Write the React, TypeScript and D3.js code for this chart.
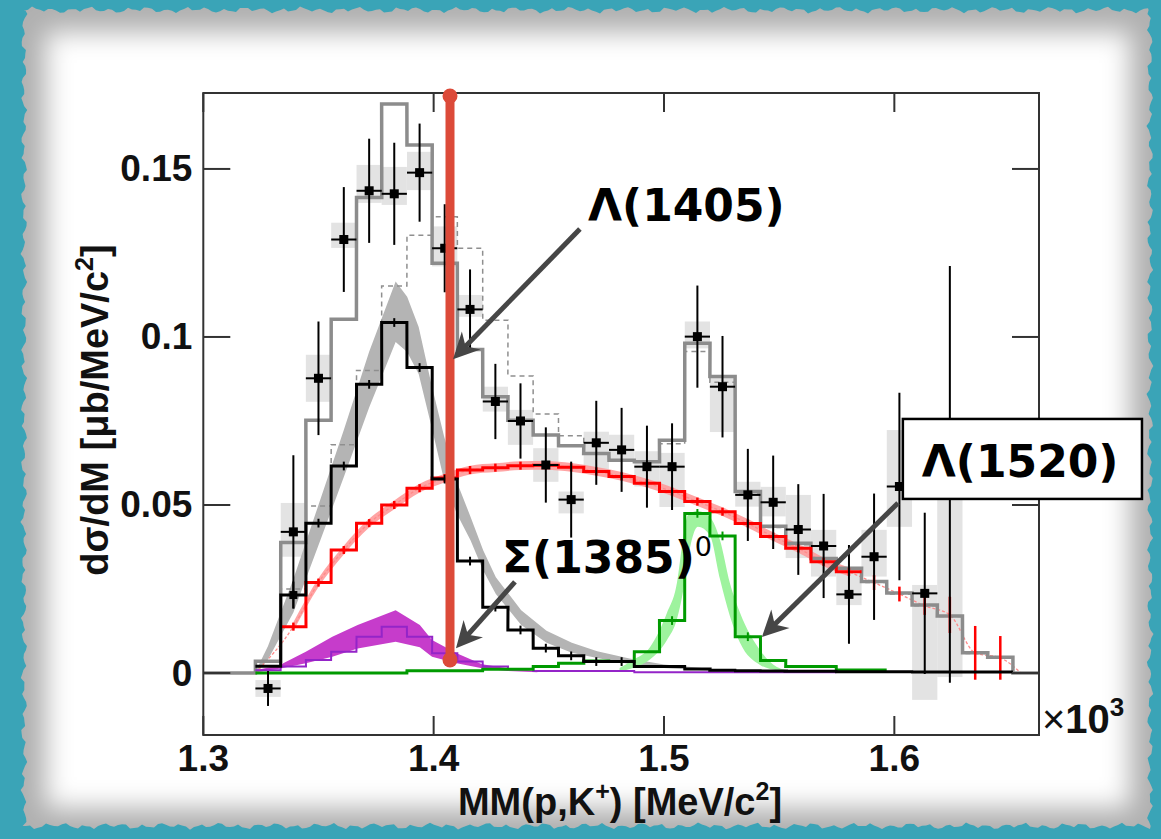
import React from "react";
import * as d3 from "d3";

// ---------------- data ----------------
const binCenters = [1.3281, 1.3391, 1.35, 1.361, 1.372, 1.3829, 1.3939, 1.4048, 1.4158, 1.4268, 1.4377, 1.4487, 1.4597, 1.4706, 1.4816, 1.4926, 1.5035, 1.5145, 1.5254, 1.5364, 1.5474, 1.5583, 1.5693, 1.5803, 1.5912, 1.6022, 1.6132, 1.6241, 1.6351, 1.646];
const binWidth = 0.01096;

const dataValue = [-0.0046, 0.042, 0.0877, 0.129, 0.1435, 0.1426, 0.1489, 0.1264, 0.1082, 0.0808, 0.075, 0.0619, 0.0516, 0.0685, 0.0664, 0.0614, 0.0614, 0.1001, 0.0852, 0.053, 0.0508, 0.0427, 0.0378, 0.0234, 0.0346, 0.0555, 0.0237, 0.0591];
const dataStatErr = [0.0052, 0.0228, 0.0169, 0.0156, 0.0155, 0.0152, 0.0146, 0.0131, 0.0119, 0.0112, 0.0112, 0.0112, 0.0113, 0.0125, 0.0125, 0.0122, 0.0129, 0.0152, 0.0151, 0.0137, 0.0139, 0.0135, 0.0155, 0.0147, 0.0188, 0.0279, 0.024, 0.062];
const dataSysUp = [0.0025, 0.0086, 0.007, 0.005, 0.0077, 0.008, 0.0062, 0.0065, 0.0043, 0.0044, 0.0033, 0.005, 0.0024, 0.0033, 0.0045, 0.0046, 0.0041, 0.0045, 0.0026, 0.0039, 0.0046, 0.0103, 0.0048, 0.0082, 0.008, 0.0168, 0.0025, 0.0];
const dataSysDown = [0.0025, 0.0074, 0.007, 0.0025, 0.0036, 0.0033, 0.0052, 0.0054, 0.0022, 0.003, 0.0071, 0.005, 0.0041, 0.009, 0.003, 0.0059, 0.012, 0.0035, 0.0135, 0.0035, 0.0042, 0.0085, 0.0091, 0.0032, 0.0059, 0.012, 0.0317, 0.0603];

const totalFit = [0.0035, 0.0388, 0.0752, 0.1053, 0.1415, 0.1693, 0.1571, 0.1219, 0.0963, 0.0822, 0.0752, 0.0708, 0.0676, 0.0653, 0.0633, 0.0629, 0.0693, 0.0981, 0.0882, 0.054, 0.0437, 0.0386, 0.0341, 0.0312, 0.0272, 0.0238, 0.0202, 0.017, 0.006, 0.0047];
const altFit = [0.002, 0.025, 0.0497, 0.0679, 0.09, 0.1152, 0.1303, 0.1358, 0.1264, 0.105, 0.0884, 0.0771, 0.0706, 0.0651, 0.0631, 0.0627, 0.0682, 0.0957, 0.0865, 0.0536, 0.0433, 0.0382, 0.0338, 0.0309, 0.0269, 0.0235, 0.02, 0.0168, 0.0058, 0.0045];
const lambda1405 = [0.002, 0.0232, 0.0446, 0.0616, 0.0859, 0.1043, 0.0909, 0.0577, 0.0333, 0.0196, 0.0128, 0.0074, 0.0051, 0.0034, 0.0034, 0.0019, 0.0019, 0.0012, 0.0008, 0.0007, 0.0006, 0.0005, 0.0005, 0.0004, 0.0004, 0.0004, 0.0003, 0.0003, 0.0003, 0.0003];
const phaseSpace = [0, 0.0138, 0.0269, 0.0366, 0.0446, 0.05, 0.055, 0.058, 0.0604, 0.0611, 0.0617, 0.0618, 0.0612, 0.06, 0.0585, 0.0565, 0.054, 0.051, 0.048, 0.0445, 0.0406, 0.0371, 0.0331, 0.0301, 0.0269, 0.0235, 0.02, 0.0173, 0.006, 0.0045];
const phaseSpaceErr = [0, 0.0012, 0.0012, 0.0012, 0.0012, 0.0012, 0.0012, 0.0012, 0.0012, 0.0012, 0.0012, 0.0012, 0.0012, 0.0012, 0.0012, 0.0012, 0.0012, 0.0012, 0.0012, 0.0012, 0.0012, 0.0012, 0.0012, 0.0012, 0.0022, 0.0022, 0.0027, 0.0054, 0.008, 0.0065];
const sigma1385 = [0.0008, 0.0019, 0.0039, 0.0063, 0.0108, 0.0138, 0.0108, 0.0059, 0.0034, 0.0019, 0.0012, 0.0006, 0.0006, 0.0006, 0.0006, 0.0002, 0.0002, 0.0002, 0.0002, 0.0002, 0.0002, 0.0002, 0.0002];
const lambda1520 = [0, 0, 0, 0, 0, 0, 0.0007, 0.0007, 0.0007, 0.0011, 0.0011, 0.0019, 0.0029, 0.0036, 0.0034, 0.0063, 0.0156, 0.0475, 0.0408, 0.0108, 0.0037, 0.0019, 0.0019, 0.0009, 0.0009];

// model uncertainty bands (smooth curves)
const band1405X = [1.3226, 1.3281, 1.3391, 1.35, 1.361, 1.372, 1.3835, 1.3885, 1.3935, 1.399, 1.4045, 1.41, 1.416, 1.4215, 1.427, 1.438, 1.449, 1.46, 1.471, 1.485, 1.5, 1.52];
const band1405Lo = [-0.0003, 0.004, 0.018, 0.038, 0.0583, 0.079, 0.0985, 0.0955, 0.089, 0.0735, 0.0575, 0.0475, 0.0395, 0.0305, 0.0235, 0.0143, 0.009, 0.006, 0.0045, 0.0027, 0.0015, 0.0007];
const band1405Hi = [0.0003, 0.008, 0.028, 0.05, 0.0723, 0.0956, 0.1165, 0.112, 0.103, 0.086, 0.0705, 0.057, 0.0465, 0.0365, 0.0285, 0.0187, 0.0126, 0.009, 0.0065, 0.0043, 0.0025, 0.0013];

const band1385X = [1.3226, 1.333, 1.3445, 1.356, 1.367, 1.3835, 1.394, 1.3993, 1.41, 1.421, 1.432, 1.445];
const band1385Lo = [0.0002, 0.0013, 0.0029, 0.0048, 0.0073, 0.0093, 0.0077, 0.0048, 0.0029, 0.0014, 0.0006, 0.0002];
const band1385Hi = [0.0008, 0.0023, 0.0063, 0.0108, 0.0143, 0.0187, 0.0143, 0.0098, 0.0059, 0.0026, 0.0014, 0.0006];

const band1520X = [1.4807, 1.4865, 1.4939, 1.5013, 1.5056, 1.5082, 1.5104, 1.5147, 1.5199, 1.5243, 1.5286, 1.533, 1.5417, 1.549, 1.556];
const band1520Lo = [0.0005, 0.0015, 0.004, 0.0098, 0.016, 0.024, 0.034, 0.0435, 0.041, 0.028, 0.017, 0.009, 0.0024, 0.0008, 0.0002];
const band1520Hi = [0.0015, 0.0039, 0.0077, 0.0179, 0.0268, 0.0396, 0.047, 0.0482, 0.0464, 0.0396, 0.0268, 0.0179, 0.0068, 0.0018, 0.0006];

const phaseSpaceThreshold = 1.3226;
const phaseSpaceEnd = 1.655;

const xTicks = [1.3, 1.4, 1.5, 1.6];
const xTickLabels = ["1.3", "1.4", "1.5", "1.6"];
const yTicks = [0, 0.05, 0.1, 0.15];
const yTickLabels = ["0", "0.05", "0.1", "0.15"];

// annotation anchors in data coordinates
const markerLine = { x: 1.4071, y1: 0.1717, y2: 0.0039 };
const arrow1405 = { x1: 1.4635, y1: 0.1321, x2: 1.4084, y2: 0.0934 };
const arrow1385 = { x1: 1.4353, y1: 0.0271, x2: 1.4097, y2: 0.0074 };
const arrow1520 = { x1: 1.6016, y1: 0.0506, x2: 1.5425, y2: 0.0107 };
const label1405 = { x: 1.467, y: 0.1345, text: "Λ(1405)" };
const label1385 = { x: 1.4297, y: 0.0298, text: "Σ(1385)", sup: "0" };
const label1520 = { x0: 1.6037, x1: 1.7075, y0: 0.0756, y1: 0.0518, tx: 1.6546, ty: 0.0583, text: "Λ(1520)" };

// ---------------- component ----------------
const W = 1161;
const H = 839;
const AXIS_FONT = "'Liberation Sans', Arial, Helvetica, sans-serif";
const LABEL_FONT = "'DejaVu Sans', 'Open Sans', sans-serif";

function paperPath(): string {
  const L = 24, T = 10, R = 1150, B = 826;
  const wob = (i: number, s: number) =>
    1.8 * Math.sin(i * 1.31 + s) + 1.2 * Math.sin(i * 0.47 + 2 * s) + 0.7 * Math.sin(i * 2.9 + s);
  const pts: [number, number][] = [];
  for (let xx = L; xx <= R; xx += 4) pts.push([xx, T + wob(xx / 4, 0.3)]);
  for (let yy = T; yy <= B; yy += 4) pts.push([R + wob(yy / 4, 1.1), yy]);
  for (let xx = R; xx >= L; xx -= 4) pts.push([xx, B + wob(xx / 4, 2.1)]);
  for (let yy = B; yy >= T; yy -= 4) pts.push([L + wob(yy / 4, 3.3), yy]);
  return "M" + pts.map((p) => p[0].toFixed(1) + "," + p[1].toFixed(1)).join("L") + "Z";
}

function arrowHead(x1: number, y1: number, x2: number, y2: number, L = 26, w = 13, notch = 8) {
  const dx = x2 - x1, dy = y2 - y1;
  const len = Math.hypot(dx, dy);
  const ux = dx / len, uy = dy / len;
  const nx = -uy, ny = ux;
  const bx = x2 - L * ux, by = y2 - L * uy;
  const p = [
    [x2, y2],
    [bx + w * nx, by + w * ny],
    [x2 - (L - notch) * ux, y2 - (L - notch) * uy],
    [bx - w * nx, by - w * ny],
  ];
  return {
    head: "M" + p.map((q) => q.join(",")).join("L") + "Z",
    lineEnd: [x2 - (L - notch - 2) * ux, y2 - (L - notch - 2) * uy],
  };
}

export default function App() {
  const x = d3.scaleLinear().domain([1.3, 1.6628]).range([203.3, 1039]);
  const y = d3.scaleLinear().domain([-0.01845, 0.1726]).range([735, 93]);
  const [xMin, xMax] = x.domain();

  const line = d3.line<[number, number]>().x((d) => x(d[0])).y((d) => y(d[1]));

  const step = (vals: number[], from: number, to: number, padZero = false) => {
    const pts: [number, number][] = [];
    if (padZero) pts.push([xMin, 0], [binCenters[from] - binWidth / 2, 0]);
    for (let i = from; i <= to; i++) {
      pts.push([binCenters[i] - binWidth / 2, vals[i]], [binCenters[i] + binWidth / 2, vals[i]]);
    }
    if (padZero) pts.push([binCenters[to] + binWidth / 2, 0], [xMax, 0]);
    return line(pts) || "";
  };

  const band = (xs: number[], lo: number[], hi: number[], curve: d3.CurveFactory) =>
    d3
      .area<number>()
      .x((d) => x(d))
      .y0((_, i) => y(lo[i]))
      .y1((_, i) => y(hi[i]))
      .curve(curve)(xs) || "";

  // phase-space smooth band & curve
  const psIdx = d3.range(1, 24);
  const psBand = d3
    .area<number>()
    .x((i) => x(binCenters[i]))
    .y0((i) => y(phaseSpace[i] - 0.0013))
    .y1((i) => y(phaseSpace[i] + 0.0013))
    .curve(d3.curveMonotoneX)(psIdx) || "";
  const psCurvePts: [number, number][] = [
    [phaseSpaceThreshold, 0],
    ...d3.range(1, 30).map((i) => [binCenters[i], phaseSpace[i]] as [number, number]),
    [phaseSpaceEnd, 0],
  ];
  const psCurve = d3
    .line<[number, number]>()
    .x((d) => x(d[0]))
    .y((d) => y(d[1]))
    .curve(d3.curveMonotoneX)(psCurvePts) || "";

  const halfBinPx = (x(binCenters[0] + binWidth / 2) - x(binCenters[0] - binWidth / 2)) / 2;

  const a1405 = arrowHead(x(arrow1405.x1), y(arrow1405.y1), x(arrow1405.x2), y(arrow1405.y2));
  const a1385 = arrowHead(x(arrow1385.x1), y(arrow1385.y1), x(arrow1385.x2), y(arrow1385.y2));
  const a1520 = arrowHead(x(arrow1520.x1), y(arrow1520.y1), x(arrow1520.x2), y(arrow1520.y2));

  const frameL = x(xMin), frameR = x(xMax);
  const frameT = y(y.domain()[1]), frameB = y(y.domain()[0]);

  return (
    <svg
      width={W}
      height={H}
      viewBox={`0 0 ${W} ${H}`}
      style={{ position: "absolute", left: 0, top: 0, display: "block" }}
    >
      <defs>
        <clipPath id="paperClip">
          <path d={paperPath()} />
        </clipPath>
        <filter id="soft" x="-10%" y="-10%" width="120%" height="120%">
          <feGaussianBlur stdDeviation="13" />
        </filter>
      </defs>

      {/* background */}
      <rect x={0} y={0} width={W} height={H} fill="#3aa4b7" />
      <path d={paperPath()} fill="#b0b0b0" />
      <g clipPath="url(#paperClip)">
        <rect x={46} y={32} width={1084} height={776} fill="#ffffff" filter="url(#soft)" />
      </g>
      <rect x={frameL} y={frameT} width={frameR - frameL} height={frameB - frameT} fill="#ffffff" />

      {/* systematic boxes */}
      <g fill="#e3e3e3">
        {dataValue.map((v, i) => (
          <rect
            key={"sys" + i}
            x={x(binCenters[i] - binWidth / 2)}
            width={x(binCenters[i] + binWidth / 2) - x(binCenters[i] - binWidth / 2)}
            y={y(v + dataSysUp[i])}
            height={Math.max(1, y(v - dataSysDown[i]) - y(v + dataSysUp[i]))}
          />
        ))}
      </g>

      {/* model bands */}
      <path d={band(band1405X, band1405Lo, band1405Hi, d3.curveLinear)} fill="#b4b4b4" />
      <path d={band(band1385X, band1385Lo, band1385Hi, d3.curveLinear)} fill="#c63ccb" />
      <path d={band(band1520X, band1520Lo, band1520Hi, d3.curveMonotoneX)} fill="#9ef39e" />
      <path d={psBand} fill="#ff9a9a" opacity={0.9} />
      <path d={psCurve} fill="none" stroke="#ff8a8a" strokeWidth={1.3} strokeDasharray="3,2" />

      {/* histograms */}
      <path d={step(altFit, 0, 29)} fill="none" stroke="#8f8f8f" strokeWidth={1.5} strokeDasharray="5,4" />
      <path d={step(totalFit, 0, 29, true)} fill="none" stroke="#8c8c8c" strokeWidth={3.5} />
      <path d={step(sigma1385, 0, sigma1385.length - 1)} fill="none" stroke="#9424c8" strokeWidth={2} />
      <path d={step(phaseSpace, 1, 23)} fill="none" stroke="#ff0000" strokeWidth={3} />
      <g stroke="#ff0000" strokeWidth={2.5}>
        {phaseSpace.map((v, i) =>
          i === 0 ? null : (
            <line key={"pse" + i} x1={x(binCenters[i])} x2={x(binCenters[i])} y1={y(v - phaseSpaceErr[i])} y2={y(v + phaseSpaceErr[i])} />
          )
        )}
      </g>
      <path d={step(lambda1520, 0, lambda1520.length - 1)} fill="none" stroke="#009a00" strokeWidth={3} />
      <path d={step(lambda1405, 0, 29)} fill="none" stroke="#000000" strokeWidth={3} />
      <g stroke="#000" strokeWidth={2}>
        {lambda1405.map((v, i) =>
          v > 0.003 ? (
            <line key={"le" + i} x1={x(binCenters[i])} x2={x(binCenters[i])} y1={y(v - 0.0013)} y2={y(v + 0.0013)} />
          ) : null
        )}
      </g>
      <g stroke="#009a00" strokeWidth={2}>
        {lambda1520.map((v, i) =>
          v > 0.01 ? (
            <line key={"ge" + i} x1={x(binCenters[i])} x2={x(binCenters[i])} y1={y(v - 0.0013)} y2={y(v + 0.0013)} />
          ) : null
        )}
      </g>
      {/* Lambda(1405) first-bin marker */}
      <g>
        <line x1={x(binCenters[1])} x2={x(binCenters[1])} y1={y(lambda1405[1] - 0.004)} y2={y(lambda1405[1] + 0.004)} stroke="#000" strokeWidth={2} />
        <rect x={x(binCenters[1]) - 4} y={y(lambda1405[1]) - 4} width={8} height={8} fill="#000" />
      </g>

      {/* data points */}
      <g stroke="#000" strokeWidth={2}>
        {dataValue.map((v, i) => {
          const cx = x(binCenters[i]);
          const cy = y(v);
          return (
            <g key={"d" + i}>
              <line x1={cx} x2={cx} y1={y(v - dataStatErr[i])} y2={y(v + dataStatErr[i])} />
              <line x1={cx - halfBinPx} x2={cx + halfBinPx} y1={cy} y2={cy} />
              <rect x={cx - 4.5} y={cy - 4.5} width={9} height={9} fill="#000" stroke="none" />
            </g>
          );
        })}
      </g>

      {/* frame, ticks */}
      <rect x={frameL} y={frameT} width={frameR - frameL} height={frameB - frameT} fill="none" stroke="#333" strokeWidth={2} />
      <g stroke="#333" strokeWidth={2}>
        {yTicks.map((t) => (
          <g key={"yt" + t}>
            <line x1={frameL} x2={frameL + 27} y1={y(t)} y2={y(t)} />
            <line x1={frameR - 27} x2={frameR} y1={y(t)} y2={y(t)} />
          </g>
        ))}
        {xTicks.map((t) => (
          <g key={"xt" + t}>
            <line x1={x(t)} x2={x(t)} y1={frameB} y2={frameB - 19} />
            <line x1={x(t)} x2={x(t)} y1={frameT} y2={frameT + 19} />
          </g>
        ))}
      </g>
      <g fontFamily={AXIS_FONT} fontWeight="bold" fontSize={37} fill="#111">
        {yTicks.map((t, i) => (
          <text key={"yl" + t} x={frameL - 11} y={y(t)} textAnchor="end" dominantBaseline="central">
            {yTickLabels[i]}
          </text>
        ))}
        {xTicks.map((t, i) => (
          <text key={"xl" + t} x={x(t)} y={771} textAnchor="middle">
            {xTickLabels[i]}
          </text>
        ))}
      </g>
      <text x={620} y={815} textAnchor="middle" fontFamily={AXIS_FONT} fontWeight="bold" fontSize={38} fill="#111">
        MM(p,K<tspan dy={-15} fontSize={25}>+</tspan>
        <tspan dy={15}>) [MeV/c</tspan>
        <tspan dy={-15} fontSize={25}>2</tspan>
        <tspan dy={15}>]</tspan>
      </text>
      <text
        transform="translate(108,410) rotate(-90)"
        textAnchor="middle"
        fontFamily={AXIS_FONT}
        fontWeight="bold"
        fontSize={38}
        fill="#111"
      >
        dσ/dM [μb/MeV/c<tspan dy={-15} fontSize={25}>2</tspan>
        <tspan dy={15}>]</tspan>
      </text>
      <text x={1042} y={733} fontFamily={AXIS_FONT} fontSize={40} fill="#111">
        <tspan fontWeight="normal">×</tspan>
        <tspan fontWeight="bold">10</tspan>
        <tspan fontWeight="bold" fontSize={26} dy={-17}>3</tspan>
      </text>

      {/* annotations */}
      <line
        x1={x(markerLine.x)}
        x2={x(markerLine.x)}
        y1={y(markerLine.y1)}
        y2={y(markerLine.y2)}
        stroke="#dc4a39"
        strokeWidth={9}
        strokeLinecap="round"
      />
      <circle cx={x(markerLine.x)} cy={y(markerLine.y1)} r={7.5} fill="#dc4a39" />
      <circle cx={x(markerLine.x)} cy={y(markerLine.y2)} r={7.5} fill="#dc4a39" />

      <g stroke="#464646" strokeWidth={5} fill="#464646">
        <line x1={x(arrow1405.x1)} y1={y(arrow1405.y1)} x2={a1405.lineEnd[0]} y2={a1405.lineEnd[1]} />
        <path d={a1405.head} stroke="none" />
        <line x1={x(arrow1385.x1)} y1={y(arrow1385.y1)} x2={a1385.lineEnd[0]} y2={a1385.lineEnd[1]} />
        <path d={a1385.head} stroke="none" />
        <line x1={x(arrow1520.x1)} y1={y(arrow1520.y1)} x2={a1520.lineEnd[0]} y2={a1520.lineEnd[1]} />
        <path d={a1520.head} stroke="none" />
      </g>

      <text x={x(label1405.x)} y={y(label1405.y)} fontFamily={LABEL_FONT} fontWeight="bold" fontSize={44} fill="#000">
        {label1405.text}
      </text>
      <text x={x(label1385.x)} y={y(label1385.y)} fontFamily={LABEL_FONT} fontWeight="bold" fontSize={44} fill="#000">
        {label1385.text}
        <tspan fontSize={27} fontWeight="normal" dy={-17}>{label1385.sup}</tspan>
      </text>
      <rect
        x={x(label1520.x0)}
        y={y(label1520.y0)}
        width={x(label1520.x1) - x(label1520.x0)}
        height={y(label1520.y1) - y(label1520.y0)}
        fill="#fff"
        stroke="#000"
        strokeWidth={2.5}
      />
      <text x={x(label1520.tx)} y={y(label1520.ty)} textAnchor="middle" fontFamily={LABEL_FONT} fontWeight="bold" fontSize={44} fill="#000">
        {label1520.text}
      </text>
    </svg>
  );
}
